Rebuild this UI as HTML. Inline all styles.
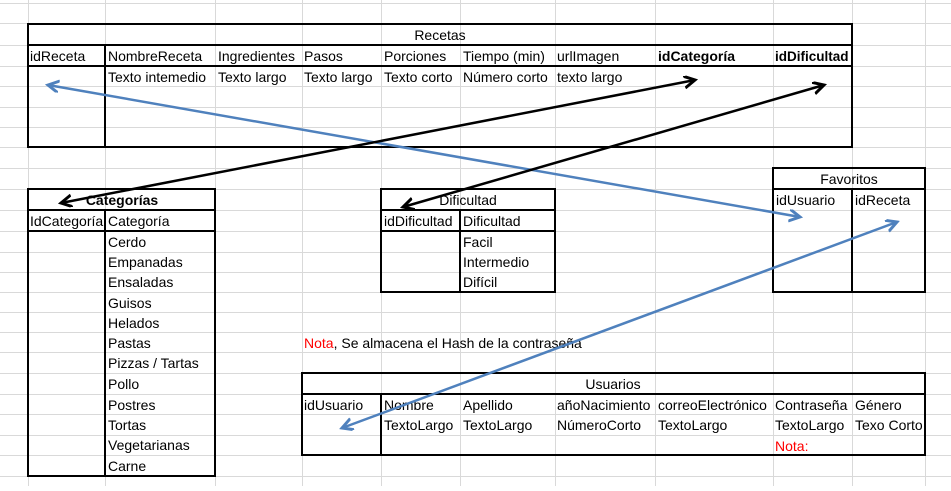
<!DOCTYPE html>
<html><head><meta charset="utf-8"><style>
html,body{margin:0;padding:0;background:#fff;}
svg text{font-family:"Liberation Sans",sans-serif;font-size:14px;fill:#000;}
</style></head><body>
<svg width="951" height="486" viewBox="0 0 951 486" xmlns="http://www.w3.org/2000/svg">
<defs>
<marker id="bk" markerWidth="14" markerHeight="14" refX="11" refY="6" orient="auto-start-reverse" markerUnits="userSpaceOnUse"><path d="M0,0 L11,6 L0,12" fill="none" stroke="#000" stroke-width="3"/></marker>
<marker id="bl" markerWidth="14" markerHeight="14" refX="11" refY="6" orient="auto-start-reverse" markerUnits="userSpaceOnUse"><path d="M0,0 L11,6 L0,12" fill="none" stroke="#4f81bd" stroke-width="3"/></marker>
</defs>
<g stroke="#d9d9d9" stroke-width="1">
<line x1="28.5" y1="0" x2="28.5" y2="486"/><line x1="105.5" y1="0" x2="105.5" y2="486"/><line x1="215.5" y1="0" x2="215.5" y2="486"/><line x1="302.5" y1="0" x2="302.5" y2="486"/><line x1="381.5" y1="0" x2="381.5" y2="486"/><line x1="460.5" y1="0" x2="460.5" y2="486"/><line x1="555.5" y1="0" x2="555.5" y2="486"/><line x1="655.5" y1="0" x2="655.5" y2="486"/><line x1="773.5" y1="0" x2="773.5" y2="486"/><line x1="852.5" y1="0" x2="852.5" y2="486"/><line x1="925.5" y1="0" x2="925.5" y2="486"/>
<line x1="0" y1="3.5" x2="951" y2="3.5"/><line x1="0" y1="23.5" x2="951" y2="23.5"/><line x1="0" y1="45.5" x2="951" y2="45.5"/><line x1="0" y1="66.5" x2="951" y2="66.5"/><line x1="0" y1="86.5" x2="951" y2="86.5"/><line x1="0" y1="107.5" x2="951" y2="107.5"/><line x1="0" y1="127.5" x2="951" y2="127.5"/><line x1="0" y1="147.5" x2="951" y2="147.5"/><line x1="0" y1="168.5" x2="951" y2="168.5"/><line x1="0" y1="189.5" x2="951" y2="189.5"/><line x1="0" y1="210.5" x2="951" y2="210.5"/><line x1="0" y1="231.5" x2="951" y2="231.5"/><line x1="0" y1="252.5" x2="951" y2="252.5"/><line x1="0" y1="272.5" x2="951" y2="272.5"/><line x1="0" y1="292.5" x2="951" y2="292.5"/><line x1="0" y1="312.5" x2="951" y2="312.5"/><line x1="0" y1="332.5" x2="951" y2="332.5"/><line x1="0" y1="352.5" x2="951" y2="352.5"/><line x1="0" y1="373.5" x2="951" y2="373.5"/><line x1="0" y1="394.5" x2="951" y2="394.5"/><line x1="0" y1="414.5" x2="951" y2="414.5"/><line x1="0" y1="435.5" x2="951" y2="435.5"/><line x1="0" y1="455.5" x2="951" y2="455.5"/><line x1="0" y1="476.5" x2="951" y2="476.5"/>
</g>
<g fill="none" stroke="#000" stroke-width="2">
<rect x="28" y="24" width="824" height="123"/>
<line x1="28" y1="45" x2="852" y2="45"/><line x1="28" y1="66" x2="852" y2="66"/><line x1="105" y1="45" x2="105" y2="147"/>
<rect x="28" y="189" width="187" height="287"/>
<line x1="28" y1="210" x2="215" y2="210"/><line x1="28" y1="231" x2="215" y2="231"/><line x1="105" y1="210" x2="105" y2="476"/>
<rect x="381" y="189" width="174" height="103"/>
<line x1="381" y1="210" x2="555" y2="210"/><line x1="381" y1="231" x2="555" y2="231"/><line x1="460" y1="210" x2="460" y2="292"/>
<rect x="773" y="168" width="152" height="124"/>
<line x1="773" y1="189" x2="925" y2="189"/><line x1="852" y1="189" x2="852" y2="292"/>
<rect x="302" y="373" width="623" height="82"/>
<line x1="302" y1="394" x2="925" y2="394"/><line x1="381" y1="394" x2="381" y2="455"/>
</g>
<text x="440" y="40" text-anchor="middle">Recetas</text>
<text x="30" y="61">idReceta</text><text x="108" y="61">NombreReceta</text><text x="218" y="61">Ingredientes</text><text x="304" y="61">Pasos</text><text x="384" y="61">Porciones</text><text x="463" y="61">Tiempo (min)</text><text x="557" y="61">urlImagen</text>
<text x="658" y="61" font-weight="bold">idCategoría</text><text x="775" y="61" font-weight="bold" style="font-size:13.5px">idDificultad</text>
<text x="108" y="82">Texto intemedio</text><text x="218" y="82">Texto largo</text><text x="304" y="82">Texto largo</text><text x="384" y="82">Texto corto</text><text x="463" y="82">Número corto</text><text x="557" y="82">texto largo</text>
<text x="122" y="205" text-anchor="middle" font-weight="bold">Categorías</text>
<text x="30" y="226">IdCategoría</text><text x="108" y="226">Categoría</text>
<text x="108" y="247">Cerdo</text><text x="108" y="267">Empanadas</text><text x="108" y="287">Ensaladas</text><text x="108" y="308">Guisos</text><text x="108" y="328">Helados</text><text x="108" y="348">Pastas</text><text x="108" y="368">Pizzas / Tartas</text><text x="108" y="389">Pollo</text><text x="108" y="410">Postres</text><text x="108" y="430">Tortas</text><text x="108" y="450">Vegetarianas</text><text x="108" y="471">Carne</text>
<text x="468" y="205" text-anchor="middle">Dificultad</text>
<text x="384" y="226">idDificultad</text><text x="463" y="226">Dificultad</text>
<text x="463" y="247">Facil</text><text x="463" y="267">Intermedio</text><text x="463" y="287">Difícil</text>
<text x="849" y="184" text-anchor="middle">Favoritos</text>
<text x="776" y="205">idUsuario</text><text x="855" y="205">idReceta</text>
<text x="304" y="348"><tspan style="fill:#ff0000">Nota</tspan>, Se almacena el Hash de la contraseña</text>
<text x="613" y="389" text-anchor="middle">Usuarios</text>
<text x="304" y="410">idUsuario</text><text x="384" y="410">Nombre</text><text x="463" y="410">Apellido</text><text x="557" y="410">añoNacimiento</text><text x="658" y="410">correoElectrónico</text><text x="775" y="410">Contraseña</text><text x="855" y="410">Género</text>
<text x="384" y="430">TextoLargo</text><text x="463" y="430">TextoLargo</text><text x="557" y="430">NúmeroCorto</text><text x="658" y="430">TextoLargo</text><text x="775" y="430">TextoLargo</text><text x="855" y="430">Texo Corto</text>
<text x="775" y="451" style="fill:#ff0000">Nota:</text>
<g fill="none" stroke-width="2.5">
<line x1="48" y1="85" x2="800" y2="217" stroke="#4f81bd" marker-start="url(#bl)" marker-end="url(#bl)"/>
<line x1="342" y1="428" x2="897" y2="222" stroke="#4f81bd" marker-start="url(#bl)" marker-end="url(#bl)"/>
<line x1="61" y1="203" x2="695" y2="80" stroke="#000" marker-start="url(#bk)" marker-end="url(#bk)"/>
<line x1="403" y1="207" x2="824" y2="85" stroke="#000" marker-start="url(#bk)" marker-end="url(#bk)"/>
</g>
</svg>
</body></html>
